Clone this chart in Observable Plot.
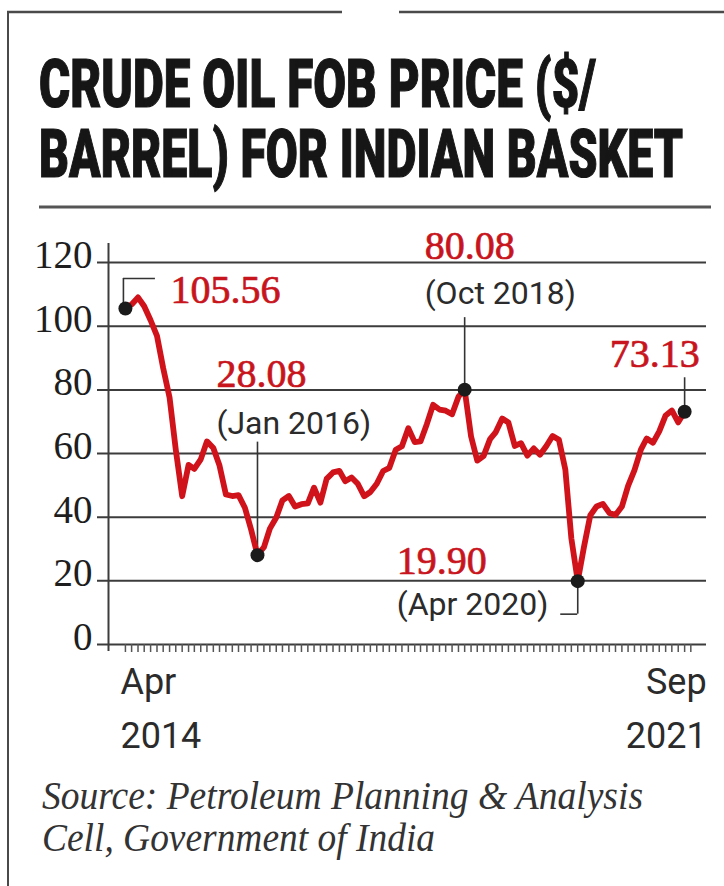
<!DOCTYPE html>
<html>
<head>
<meta charset="utf-8">
<script src="https://cdn.jsdelivr.net/npm/d3@7"></script>
<script src="https://cdn.jsdelivr.net/npm/@observablehq/plot@0.6"></script>
<style>
  html, body { margin: 0; padding: 0; background: #fff; }
  #wrap { position: relative; width: 724px; height: 886px; overflow: hidden; background: #fff; }
  #wrap > * { position: absolute; left: 0; }
  #leftBorder { left: 7px; top: 11px; bottom: 0; width: 0; border-left: 2.5px solid #4a4a4a; }
</style>
</head>
<body>
<div id="wrap"><div id="leftBorder"></div></div>
<script>
// ---- Data ----
const titleLines = ["CRUDE OIL FOB PRICE ($/", "BARREL) FOR INDIAN BASKET"];
const captionLines = ["Source: Petroleum Planning & Analysis", "Cell, Government of India"];

const firstMonth = "2014-04";
const lastMonth = "2021-09";
// Monthly FOB price, $/barrel (Apr 2014 … Sep 2021)
const prices2014 = [105.56, 106.85, 109.05, 106.28, 101.89, 96.96, 86.83, 77.58, 61.21];
const prices2015 = [46.59, 56.43, 55.18, 58.18, 63.82, 61.75, 56.23, 47.12, 46.66, 46.92, 42.98, 36.11];
const prices2016 = [28.08, 30.55, 36.42, 39.90, 45.31, 46.66, 43.35, 44.08, 44.33, 49.29, 44.58, 52.04];
const prices2017 = [54.07, 54.55, 51.31, 52.50, 50.52, 46.58, 47.92, 50.50, 54.52, 55.52, 61.17, 62.29];
const prices2018 = [67.96, 63.60, 63.79, 69.30, 75.31, 73.83, 73.47, 72.35, 77.88, 80.08, 65.40, 57.77];
const prices2019 = [59.27, 64.53, 66.74, 71.00, 69.74, 62.38, 63.26, 59.35, 61.61, 59.64, 62.39, 65.52];
const prices2020 = [64.31, 54.92, 33.36, 19.90, 30.60, 40.63, 43.35, 44.19, 41.35, 40.66, 43.34, 49.84];
const prices2021 = [54.79, 61.22, 64.73, 63.40, 66.95, 71.98, 73.54, 69.80, 73.13];

const yTicks = [0, 20, 40, 60, 80, 100, 120];
const xLabelMonths = ["Apr", "Sep"];
const xLabelYears = ["2014", "2021"];
const xLabelAt = ["2014-04", "2021-09"];

const highlightMonths = ["2014-04", "2016-01", "2018-10", "2020-04", "2021-09"];
const highlightDates = ["", "(Jan 2016)", "(Oct 2018)", "(Apr 2020)", ""];

// ---- Build table ----
const parseMonth = d3.utcParse("%Y-%m");
const prices = [].concat(prices2014, prices2015, prices2016, prices2017, prices2018, prices2019, prices2020, prices2021);
const months = d3.utcMonth.range(parseMonth(firstMonth), d3.utcMonth.offset(parseMonth(lastMonth), 1));
const data = months.map((date, i) => ({date, price: prices[i]}));
const byMonth = new Map(data.map(d => [d3.utcFormat("%Y-%m")(d.date), d]));
const hl = highlightMonths.map((m, i) => ({
  date: byMonth.get(m).date,
  value: byMonth.get(m).price,
  label: d3.format(".2f")(byMonth.get(m).price),
  sub: highlightDates[i]
}));
const xLabels = xLabelAt.map((m, i) => ({date: parseMonth(m), month: xLabelMonths[i], year: xLabelYears[i]}));
const tickMonths = d3.utcMonth.range(parseMonth("2014-04"), parseMonth("2021-11"));

// ---- Styles ----
const RED = "#d0121b";
const RED_TEXT = "#c8141c";
const INK = "#2b2b2b";
const GRID = "#3c3c3c";
const SERIF = "Liberation Serif, Times New Roman, serif";
const SANS = "Roboto, Open Sans, sans-serif";

const wrap = document.getElementById("wrap");
const NS = "http://www.w3.org/2000/svg";

// ---- Header (frame top + title + separator) ----
const header = document.createElementNS(NS, "svg");
header.setAttribute("width", 724);
header.setAttribute("height", 215);
header.style.top = "0px";
header.innerHTML = `
  <line x1="7" y1="12" x2="342" y2="12" stroke="#4a4a4a" stroke-width="2.5"/>
  <line x1="399" y1="12" x2="724" y2="12" stroke="#4a4a4a" stroke-width="2.5"/>
  <line x1="39" y1="207" x2="711" y2="207" stroke="#555" stroke-width="3"/>`;
const titleScaleY = 1.5;
const titleY = [107, 177];
const titleLen = [557, 644];
const tg = document.createElementNS(NS, "g");
tg.setAttribute("transform", `scale(1, ${titleScaleY})`);
titleLines.forEach((t, i) => {
  const el = document.createElementNS(NS, "text");
  el.setAttribute("x", 39);
  el.setAttribute("y", titleY[i] / titleScaleY);
  el.setAttribute("textLength", titleLen[i]);
  el.setAttribute("lengthAdjust", "spacingAndGlyphs");
  el.setAttribute("font-family", "Roboto, Inter, sans-serif");
  el.setAttribute("font-weight", "900");
  el.setAttribute("font-size", "44");
  el.setAttribute("fill", "#161616");
  el.setAttribute("stroke", "#161616");
  el.setAttribute("stroke-width", "0.8");
  el.textContent = t;
  tg.appendChild(el);
});
header.appendChild(tg);
wrap.appendChild(header);

// ---- Chart ----
const xDomain = [new Date(Date.UTC(2014, 0, 9)), new Date(Date.UTC(2021, 11, 16))];
const connector = {stroke: "#333", strokeWidth: 1.6};
const valueText = {x: "date", y: "value", text: "label", lineAnchor: "bottom", fill: RED_TEXT, stroke: RED_TEXT, strokeWidth: 0.7, fontSize: 40, fontFamily: SERIF, textAnchor: "start"};
const subText = {x: "date", y: "value", text: "sub", lineAnchor: "bottom", fill: INK, fontSize: 32, fontFamily: SANS, textAnchor: "start"};

const chart = Plot.plot({
  width: 724,
  height: 550,
  marginLeft: 108,
  marginRight: 18,
  marginTop: 28,
  marginBottom: 121,
  x: {type: "utc", domain: xDomain},
  y: {domain: [0, 126]},
  style: {background: "transparent", overflow: "visible"},
  marks: [
    // gridlines + y ticks
    Plot.ruleY(yTicks, {stroke: GRID, strokeWidth: 2, insetLeft: -11}),
    // y axis line
    Plot.ruleX([xDomain[0]], {y1: 126, y2: 0, stroke: GRID, strokeWidth: 2, insetBottom: -7}),
    Plot.axisY({ticks: yTicks, tickSize: 0, tickPadding: 16, fontSize: 39, fontFamily: SERIF, fill: "#1e1e1e", stroke: "#1e1e1e", strokeWidth: 0.6, dy: -7, label: null}),
    Plot.axisX({ticks: tickMonths, tickSize: 8, tickFormat: () => "", stroke: "#555", strokeWidth: 1.5, label: null}),
    // x labels
    Plot.text(xLabels.slice(0, 1), {x: "date", text: "month", frameAnchor: "bottom", lineAnchor: "top", textAnchor: "start", dx: -5, dy: 24, fontSize: 36, fontFamily: SANS, fill: INK}),
    Plot.text(xLabels.slice(0, 1), {x: "date", text: "year", frameAnchor: "bottom", lineAnchor: "top", textAnchor: "start", dx: -5, dy: 78, fontSize: 36, fontFamily: SANS, fill: INK}),
    Plot.text(xLabels.slice(1), {x: "date", text: "month", frameAnchor: "bottom", lineAnchor: "top", textAnchor: "end", dx: 22, dy: 24, fontSize: 36, fontFamily: SANS, fill: INK}),
    Plot.text(xLabels.slice(1), {x: "date", text: "year", frameAnchor: "bottom", lineAnchor: "top", textAnchor: "end", dx: 22, dy: 78, fontSize: 36, fontFamily: SANS, fill: INK}),
    // connectors
    Plot.ruleX([hl[0]], {x: "date", y1: "value", y2: "value", insetTop: -30, dx: -2, ...connector}),
    Plot.ruleY([hl[0]], {y: "value", x1: "date", x2: "date", dy: -30, dx: -2, insetRight: -32, ...connector}),
    Plot.ruleX([hl[1]], {x: "date", y1: "value", y2: "value", insetTop: -113, ...connector}),
    Plot.ruleX([hl[2]], {x: "date", y1: "value", y2: "value", insetTop: -72, ...connector}),
    Plot.ruleX([hl[3]], {x: "date", y1: "value", y2: "value", insetBottom: -33, ...connector}),
    Plot.ruleY([hl[3]], {y: "value", x1: "date", x2: "date", dy: 33, insetLeft: -17, ...connector}),
    Plot.ruleX([hl[4]], {x: "date", y1: "value", y2: "value", insetTop: -34, ...connector}),
    // price line
    Plot.line(data, {x: "date", y: "price", stroke: RED, strokeWidth: 5.8, strokeLinejoin: "round", strokeLinecap: "round"}),
    // highlight dots
    Plot.dot(hl, {x: "date", y: "value", r: 7, fill: "#1b1b1b", stroke: "none"}),
    // labels
    Plot.text([hl[0]], {...valueText, dx: 45, dy: -6}),
    Plot.text([hl[1]], {...valueText, dx: -41, dy: -168}),
    Plot.text([hl[1]], {...subText, dx: -41, dy: -121}),
    Plot.text([hl[2]], {...valueText, dx: -40, dy: -131}),
    Plot.text([hl[2]], {...subText, dx: -40, dy: -86}),
    Plot.text([hl[3]], {...valueText, dx: -181, dy: -7}),
    Plot.text([hl[3]], {...subText, dx: -181, dy: 34}),
    Plot.text([hl[4]], {...valueText, textAnchor: "end", dx: 15, dy: -45})
  ]
});
chart.style.top = "215px";
wrap.appendChild(chart);

// ---- Caption ----
const cap = document.createElementNS(NS, "svg");
cap.setAttribute("width", 724);
cap.setAttribute("height", 121);
cap.style.top = "765px";
const capY = [44, 86];
const capLen = [601, 393];
captionLines.forEach((t, i) => {
  const el = document.createElementNS(NS, "text");
  el.setAttribute("x", 42);
  el.setAttribute("y", capY[i]);
  el.setAttribute("textLength", capLen[i]);
  el.setAttribute("lengthAdjust", "spacingAndGlyphs");
  el.setAttribute("font-family", SERIF);
  el.setAttribute("font-style", "italic");
  el.setAttribute("font-size", "40");
  el.setAttribute("fill", "#333");
  el.textContent = t;
  cap.appendChild(el);
});
wrap.appendChild(cap);
</script>
</body>
</html>
